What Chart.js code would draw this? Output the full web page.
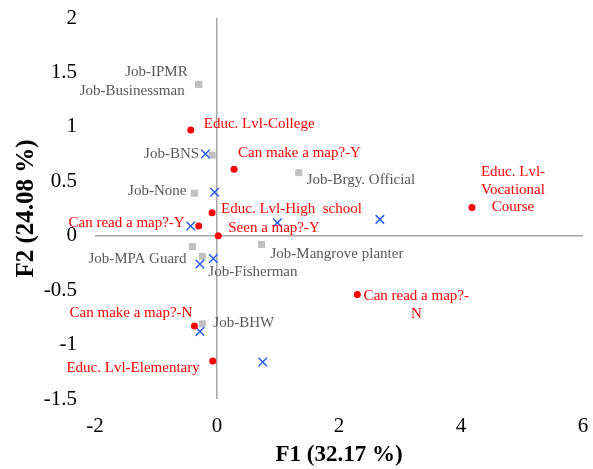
<!DOCTYPE html>
<html>
<head>
<meta charset="utf-8">
<script src="https://cdn.jsdelivr.net/npm/chart.js@4/dist/chart.umd.min.js"></script>
<style>
  html, body { margin: 0; padding: 0; background: #fff; }
  canvas { display: block; }
</style>
</head>
<body>
<canvas id="c" width="593" height="469"></canvas>
<script>
// active variable categories (red)
const varNames = ['Educ. Lvl-College', 'Can make a map?-Y', 'Educ. Lvl-High  school', 'Can read a map?-Y',
  'Seen a map?-Y', 'Educ. Lvl-\nVocational\nCourse', 'Can read a map?-\nN', 'Can make a map?-N', 'Educ. Lvl-Elementary'];
const varF1 = [-0.43, 0.28, -0.08, -0.30, 0.02, 4.18, 2.30, -0.37, -0.07];
const varF2 = [0.97, 0.61, 0.21, 0.09, 0.00, 0.26, -0.54, -0.83, -1.15];

// job categories (grey)
const jobNames = ['Job-IPMR', 'Job-Businessman', 'Job-BNS', 'Job-Brgy. Official', 'Job-None',
  'Job-MPA Guard', 'Job-Fisherman', 'Job-Mangrove planter', 'Job-BHW'];
const jobF1 = [-0.30, -0.30, -0.08, 1.34, -0.37, -0.40, -0.24, 0.73, -0.24];
const jobF2 = [1.39, 1.39, 0.74, 0.58, 0.39, -0.10, -0.19, -0.08, -0.81];

// observations (blue)
const obsF1 = [-0.19, -0.04, -0.43, 0.99, 2.67, -0.28, -0.06, -0.28, 0.75];
const obsF2 = [0.75, 0.40, 0.09, 0.12, 0.15, -0.26, -0.21, -0.88, -1.16];

const xTicks = [-2, 0, 2, 4, 6];
const yTicks = [-1.5, -1, -0.5, 0, 0.5, 1, 1.5, 2];

// label placement in px: [dx, dy, align]
const varPlace = [[13,-6,'left'],[4,-16,'left'],[9,-4,'left'],[-14,-3,'right'],[10,-8,'left'],
  [41,-35,'center'],[59,2,'center'],[-2,-13,'right'],[-13,7,'right']];
const jobPlace = [[-11,-12,'right'],[-14,7,'right'],[-13,-1,'right'],[8,7,'left'],[-8,-2,'right'],
  [-6,12,'right'],[6,16,'left'],[9,10,'left'],[11,-1,'left']];

const SERIF = '"Liberation Serif", "Times New Roman", serif';

const pts = (xs, ys) => xs.map((x, i) => ({ x, y: ys[i] }));

const labelPlugin = {
  id: 'pointLabels',
  afterDatasetsDraw(chart){
    const ctx = chart.ctx;
    ctx.save();
    ctx.font = '15px ' + SERIF;
    ctx.textBaseline = 'middle';
    chart.data.datasets.forEach((ds, di) => {
      if (!ds.names) return;
      const meta = chart.getDatasetMeta(di);
      meta.data.forEach((el, i) => {
        const [dx, dy, align] = ds.place[i];
        ctx.fillStyle = ds.labelColor;
        ctx.textAlign = align;
        ds.names[i].split('\n').forEach((line, k) => {
          ctx.fillText(line, el.x + dx, el.y + dy + k * 17.5);
        });
      });
    });
    ctx.restore();
  }
};

const zeroGrid = (c) => c.tick && c.tick.value === 0 ? '#a6a6a6' : 'rgba(0,0,0,0)';

new Chart(document.getElementById('c'), {
  type: 'scatter',
  data: {
    datasets: [
      { data: pts(varF1, varF2), names: varNames, place: varPlace, labelColor: '#ff0000',
        pointStyle: 'circle', pointRadius: 3.5, backgroundColor: '#ff0000', borderColor: '#ff0000', borderWidth: 0 },
      { data: pts(obsF1, obsF2),
        pointStyle: 'crossRot', pointRadius: 6, borderColor: '#2a5cff', borderWidth: 1.5, backgroundColor: '#2a5cff' },
      { data: pts(jobF1, jobF2), names: jobNames, place: jobPlace, labelColor: '#595959',
        pointStyle: 'rect', pointRadius: 5, backgroundColor: '#c0c0c0', borderColor: '#c0c0c0', borderWidth: 0 }
    ]
  },
  options: {
    responsive: false,
    animation: false,
    events: [],
    layout: { padding: { top: 18, right: 10, left: 0, bottom: 0 } },
    plugins: { legend: { display: false }, tooltip: { enabled: false } },
    scales: {
      x: {
        type: 'linear', position: 'bottom', min: -2, max: 6,
        afterBuildTicks: (s) => { s.ticks = xTicks.map(v => ({ value: v })); },
        afterFit: (s) => { s.height = 70; s.paddingLeft = 0; s.paddingRight = 0; },
        border: { display: false },
        grid: { drawTicks: false, color: zeroGrid, lineWidth: 1.5 },
        ticks: { color: '#000', padding: 15, font: { family: SERIF, size: 21 }, callback: (v) => String(v) },
        title: { display: true, text: 'F1 (32.17 %)', color: '#000', padding: { top: 0, bottom: 0 },
          font: { family: SERIF, size: 23, weight: 'bold' } }
      },
      y: {
        type: 'linear', position: 'left', min: -1.5, max: 2,
        afterBuildTicks: (s) => { s.ticks = yTicks.map(v => ({ value: v })); },
        afterFit: (s) => { s.width = 95; s.paddingTop = 0; s.paddingBottom = 0; },
        border: { display: false },
        grid: { drawTicks: false, color: zeroGrid, lineWidth: 1.5 },
        ticks: { color: '#000', padding: 18, font: { family: SERIF, size: 21 }, callback: (v) => String(v) },
        title: { display: true, text: 'F2 (24.08 %)', color: '#000', padding: { top: 12, bottom: 0 },
          font: { family: SERIF, size: 25, weight: 'bold' } }
      }
    }
  },
  plugins: [labelPlugin]
});
</script>
</body>
</html>
